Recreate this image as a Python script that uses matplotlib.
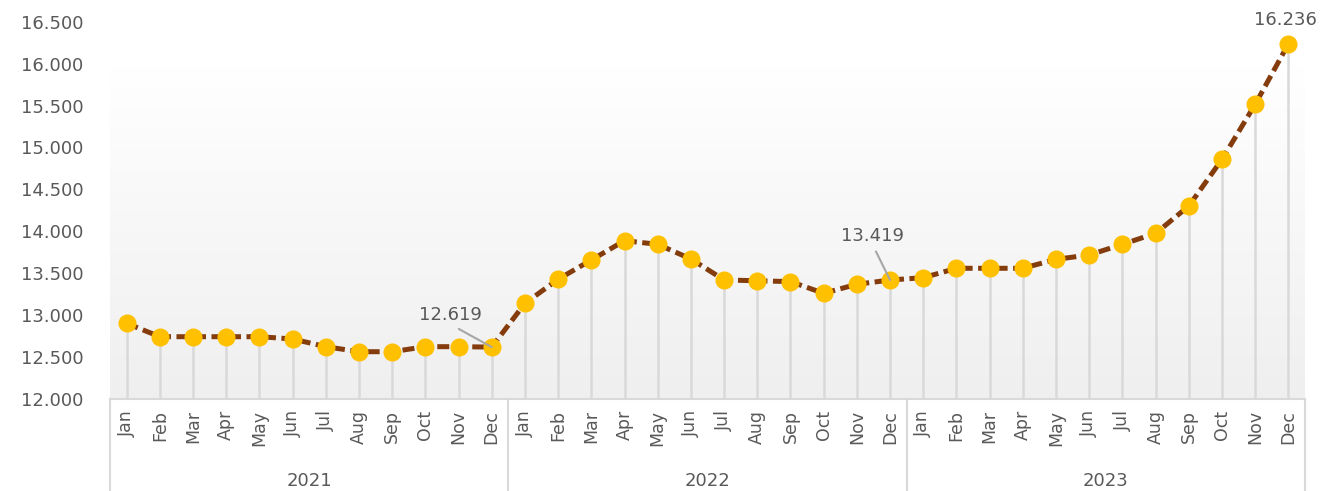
import matplotlib
matplotlib.use("Agg")
import matplotlib.pyplot as plt
import numpy as np
from matplotlib.colors import LinearSegmentedColormap
from matplotlib.ticker import FuncFormatter, MultipleLocator

months = ["Jan", "Feb", "Mar", "Apr", "May", "Jun", "Jul", "Aug", "Sep", "Oct", "Nov", "Dec"]
years = ["2021", "2022", "2023"]
values_2021 = [12.903, 12.743, 12.743, 12.743, 12.743, 12.716, 12.624, 12.564, 12.564, 12.624, 12.624, 12.619]
values_2022 = [13.141, 13.428, 13.658, 13.888, 13.845, 13.670, 13.420, 13.410, 13.400, 13.261, 13.368, 13.419]
values_2023 = [13.447, 13.559, 13.559, 13.559, 13.666, 13.718, 13.845, 13.976, 14.302, 14.859, 15.515, 16.236]
labelled = {11: "12.619", 23: "13.419", 35: "16.236"}

values = np.array(values_2021 + values_2022 + values_2023)
x = np.arange(len(values))
tick_labels = months * len(years)

plt.rcParams["font.family"] = ["DejaVu Sans"]
W, H = 1322, 491
fig = plt.figure(figsize=(W / 100, H / 100), dpi=100)
left, right, top, bottom = 110, 1305, 21.7, 399
ax = fig.add_axes([left / W, (H - bottom) / H, (right - left) / W, (bottom - top) / H])

ymin, ymax = 12.0, 16.5
ax.set_xlim(-0.5, len(values) - 0.5)
ax.set_ylim(ymin, ymax)

# gradient background: white at top, light grey at bottom
cmap = LinearSegmentedColormap.from_list("bg", [(0, "#ffffff"), (0.12, "#ffffff"), (1, "#efefef")])
grad = np.linspace(0, 1, 256).reshape(-1, 1)
ax.imshow(grad, extent=[-0.5, len(values) - 0.5, ymin, ymax], aspect="auto",
          cmap=cmap, zorder=0, origin="upper")
ax.set_xlim(-0.5, len(values) - 0.5)
ax.set_ylim(ymin, ymax)

# drop lines
ax.vlines(x, ymin, values, color="#d9d9d9", lw=1.8, zorder=1)
# line
ax.plot(x, values, color="#843C0C", lw=3.6, linestyle=(0, (2.4, 1.1)), zorder=2,
        dash_capstyle="butt")
# markers
ax.plot(x, values, linestyle="none", marker="o", markersize=12,
        markerfacecolor="#FFC000", markeredgecolor="#FFC000", zorder=3)

# annotations
offsets = {11: (-30, 23), 23: (-12.5, 31.7), 35: (-2, 17)}
for i, txt in labelled.items():
    if i == 35:
        ax.annotate(txt, (x[i], values[i]), xytext=offsets[i], textcoords="offset points",
                    ha="center", va="center", fontsize=13, color="#595959",
                    annotation_clip=False, zorder=5)
    else:
        ax.annotate(txt, (x[i], values[i]), xytext=offsets[i], textcoords="offset points",
                    ha="center", va="center", fontsize=13, color="#595959",
                    arrowprops=dict(arrowstyle="-", color="#a6a6a6", lw=1.5,
                                    shrinkA=3, shrinkB=0, relpos=(0.5, 0)),
                    zorder=5)

# axes styling
for s in ["top", "right", "left"]:
    ax.spines[s].set_visible(False)
ax.spines["bottom"].set_color("#d9d9d9")
ax.spines["bottom"].set_linewidth(1.5)

ax.yaxis.set_major_locator(MultipleLocator(0.5))
ax.yaxis.set_major_formatter(FuncFormatter(lambda v, p: f"{v:.3f}"))
ax.tick_params(axis="y", length=0, pad=19, labelsize=13, labelcolor="#595959")
ax.set_xticks(x)
ax.set_xticklabels(tick_labels, rotation=90)
ax.tick_params(axis="x", length=0, pad=8, labelsize=12.5, labelcolor="#595959")

# group separators and year labels
trans = ax.get_xaxis_transform()
ext = (H - bottom) / (bottom - top) + 0.01
for b in [-0.5, 11.5, 23.5, 35.5]:
    ax.plot([b, b], [0, -ext], color="#d9d9d9", lw=1.5, transform=trans, clip_on=False)
for k, yr in enumerate(years):
    ax.text(k * 12 + 5.5, -(481 - bottom) / (bottom - top), yr, transform=trans,
            ha="center", va="center", fontsize=13, color="#595959")

fig.savefig("out.png", dpi=100, facecolor="white")
